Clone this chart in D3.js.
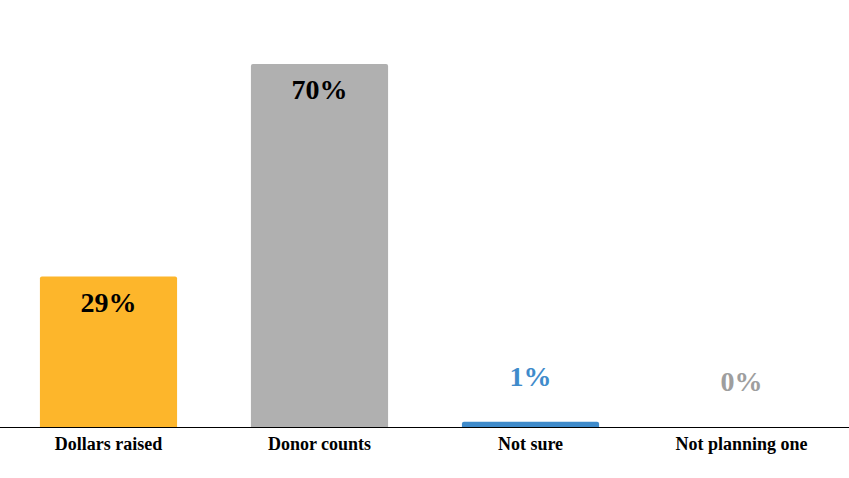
<!DOCTYPE html>
<html><head><meta charset="utf-8">
<script src="https://cdn.jsdelivr.net/npm/d3@7"></script>
<style>html,body{margin:0;padding:0;background:#fff;}</style>
</head><body>
<svg id="c" width="849" height="478"></svg>
<script>
const categories = ["Dollars raised", "Donor counts", "Not sure", "Not planning one"];
const values = [29, 70, 1, 0];
const barColors = ["#FDB62B", "#B0B0B0", "#3F8BCB", "#B0B0B0"];
const labelInside = [true, true, false, false];
const labelColors = ["#000000", "#000000", "#3F8BCB", "#9E9E9E"];

const W = 849, H = 478;
const margin = {top: 64, right: 2, bottom: 51, left: 3};
const svg = d3.select("#c");
const x = d3.scaleBand().domain(categories).range([margin.left, W - margin.right])
  .paddingInner(0.35).paddingOuter(0.175);
const y = d3.scaleLinear().domain([0, 70]).range([H - margin.bottom, margin.top]);

const font = "'Liberation Serif','Times New Roman',Times,serif";

svg.append("g").selectAll("path").data(categories).join("path")
  .attr("fill", (d, i) => barColors[i])
  .attr("d", (d, i) => {
    const x0 = x(d), w = x.bandwidth(), y0 = y(values[i]), y1 = y(0);
    const h = y1 - y0;
    if (h <= 0) return "";
    const r = Math.min(2, h / 2);
    return `M${x0},${y1}V${y0 + r}Q${x0},${y0} ${x0 + r},${y0}H${x0 + w - r}Q${x0 + w},${y0} ${x0 + w},${y0 + r}V${y1}Z`;
  });

svg.append("g").selectAll("text").data(categories).join("text")
  .attr("x", d => x(d) + x.bandwidth() / 2)
  .attr("y", (d, i) => labelInside[i] ? y(values[i]) + 35 : y(values[i]) - 36)
  .attr("text-anchor", "middle")
  .attr("font-family", font).attr("font-weight", "bold").attr("font-size", 28)
  .attr("fill", (d, i) => labelColors[i])
  .text((d, i) => values[i] + "%");

const axis = svg.append("g").attr("transform", `translate(0,${y(0)})`)
  .call(d3.axisBottom(x).tickSize(0).tickPadding(10));
axis.select(".domain").attr("d", `M0,0.5H${W}`).attr("stroke", "#000");
axis.selectAll("text").attr("font-family", font).attr("font-weight", "bold")
  .attr("font-size", 18).attr("fill", "#000").attr("dy", "0.71em");
</script>
</body></html>
